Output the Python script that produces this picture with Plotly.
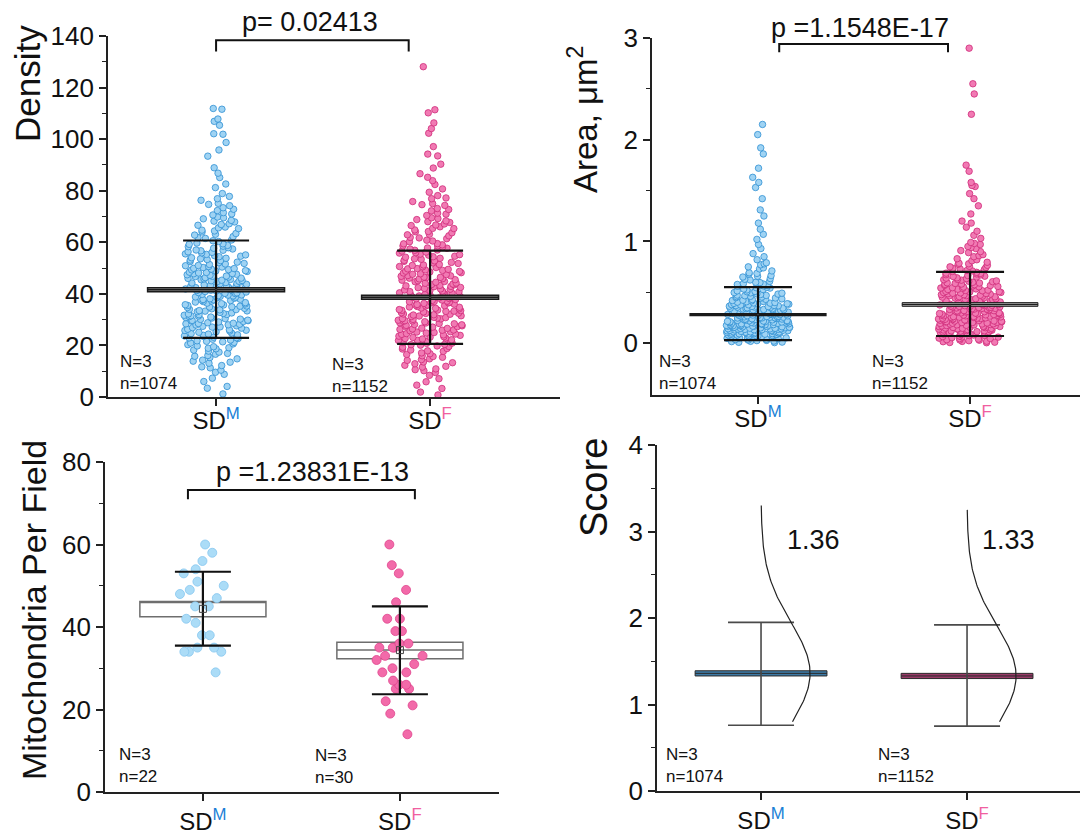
import numpy as np
import plotly.graph_objects as go

# ---- categories ----
groups = ["M", "F"]
group_pos = [0, 1]
sup_color = ["#1a7fd6", "#f0609f"]
tick_text = ["SD<sup><span style='color:%s'>%s</span></sup>" % (c, g) for g, c in zip(groups, sup_color)]
n_animals = [3, 3]

# ---- panel 1: density (subsampled) ----
density_m = [1.2, 3.4, 4.1, 6.0, 7.3, 8.8, 9.6,
             10.4, 11.7, 12.2, 13.5, 13.9, 14.8, 15.3, 16.1, 16.9, 17.4, 18.2, 18.7, 19.1, 19.8,
             20.3, 20.9, 21.4, 21.8, 22.1, 22.7, 23.2, 23.5, 23.9, 24.4, 24.8, 25.1, 25.6, 25.9, 26.3, 26.7,
             27.1, 27.4, 27.9, 28.2, 28.5, 28.8, 29.1, 29.3, 29.6, 29.8, 22.9,
             30.1, 30.4, 30.8, 31.0, 31.5, 31.7, 32.0, 32.4, 32.6, 33.1, 33.3, 33.8, 34.0, 34.2, 34.7, 35.0,
             35.3, 35.8, 36.1, 36.4, 36.6, 37.0, 37.2, 37.7, 37.9, 38.1, 38.5, 38.8, 39.0, 39.3, 39.5, 39.8,
             31.2, 33.5, 35.5, 37.5,
             40.2, 40.5, 40.7, 41.1, 41.3, 41.6, 41.9, 42.2, 42.4, 42.8, 43.0, 43.3, 43.7, 44.0, 44.2, 44.6,
             44.9, 45.1, 45.5, 45.8, 46.0, 46.3, 46.7, 46.9, 47.2, 47.6, 47.8, 48.1, 48.4, 48.7, 49.0, 49.3,
             49.6, 49.9, 42.6, 45.3,
             50.2, 50.6, 51.0, 51.4, 51.8, 52.1, 52.5, 52.9, 53.3, 53.6, 54.0, 54.4, 54.8, 55.1, 55.5, 55.9,
             56.3, 56.7, 57.0, 57.4, 57.9, 58.3, 58.8, 59.2, 59.7,
             60.3, 60.9, 61.5, 62.2, 62.8, 63.4, 64.0, 64.7, 65.3, 65.9, 66.6, 67.2, 67.9, 68.5, 69.1, 69.8,
             70.6, 71.5, 72.3, 73.4, 74.2, 75.1, 76.3, 77.8, 78.9,
             81.2, 82.6, 85.1, 86.8, 88.9, 93.4, 95.8, 98.7,
             101.9, 102.1, 105.4, 106.9, 107.8, 111.6, 111.9,
             20.6, 21.2, 22.4, 23.7, 24.1, 25.3, 26.1, 26.9, 27.6, 28.0, 28.6, 29.5,
             30.2, 30.6, 31.4, 31.9, 32.2, 32.8, 33.4, 33.9, 34.4, 34.9, 35.2, 35.7, 36.2, 36.8, 37.4, 37.8,
             38.3, 38.7, 39.2, 39.6,
             40.1, 40.4, 40.9, 41.4, 41.8, 42.1, 42.7, 43.1, 43.5, 43.9, 44.4, 44.8, 45.2, 45.6, 46.1, 46.5,
             46.8, 47.4, 47.9, 48.3, 48.9, 49.4, 49.8,
             50.4, 50.9, 51.6, 52.3, 53.1, 53.8, 54.6, 55.3, 56.1, 56.9, 57.7, 58.5, 59.4,
             60.6, 61.8, 63.1, 64.4, 65.6, 66.9, 68.2, 69.5, 71.0, 72.8, 74.7, 76.9,
             11.3, 13.1, 14.3, 15.8, 16.6, 17.8, 18.9, 19.5, 21.6, 23.0, 24.6, 25.8, 27.2, 28.4, 29.7]
density_f = [0.8, 1.9, 3.3, 4.6, 5.9, 7.1, 8.4, 9.5,
             10.2, 10.9, 11.6, 12.3, 12.9, 13.6, 14.2, 14.8, 15.4, 16.0, 16.5, 17.1, 17.7, 18.2, 18.8, 19.3, 19.8,
             20.1, 20.4, 20.8, 21.1, 21.5, 21.8, 22.2, 22.5, 22.9, 23.2, 23.6, 23.9, 24.3, 24.6, 25.0, 25.3,
             25.7, 26.0, 26.4, 26.7, 27.1, 27.4, 27.8, 28.1, 28.5, 28.8, 29.2, 29.5, 29.8, 24.1,
             30.1, 30.4, 30.6, 30.9, 31.2, 31.5, 31.8, 32.1, 32.4, 32.7, 33.0, 33.3, 33.6, 33.9, 34.2, 34.5,
             34.8, 35.1, 35.4, 35.7, 36.0, 36.3, 36.6, 36.9, 37.2, 37.5, 37.8, 38.1, 38.4, 38.7, 39.0, 39.3,
             39.6, 39.9, 32.2, 35.6,
             40.2, 40.5, 40.8, 41.1, 41.5, 41.8, 42.1, 42.5, 42.8, 43.1, 43.5, 43.8, 44.1, 44.5, 44.8, 45.1,
             45.5, 45.8, 46.1, 46.5, 46.8, 47.1, 47.5, 47.8, 48.1, 48.5, 48.8, 49.1, 49.5, 49.8, 43.3, 46.3,
             50.2, 50.6, 51.0, 51.4, 51.8, 52.2, 52.6, 53.0, 53.4, 53.8, 54.2, 54.6, 55.0, 55.4, 55.8, 56.2,
             56.6, 57.0, 57.4, 57.8, 58.2, 58.6, 59.0, 59.5,
             60.2, 60.8, 61.4, 61.9, 62.5, 63.1, 63.7, 64.2, 64.8, 65.4, 66.0, 66.5, 67.1, 67.7, 68.3, 68.8, 69.5,
             70.4, 71.3, 72.2, 73.1, 74.3, 75.0, 75.8, 76.9, 78.1, 79.4,
             80.7, 82.4, 83.9, 85.2, 86.6, 88.8, 90.3, 93.5, 94.2, 97.1,
             102.3, 104.1, 106.3, 110.2, 111.4, 128.1,
             20.3, 21.3, 22.0, 22.7, 23.4, 24.4, 25.2, 25.9, 26.6, 27.3, 28.0, 28.7, 29.4,
             30.3, 30.8, 31.4, 31.9, 32.5, 33.2, 33.7, 34.4, 34.9, 35.3, 35.9, 36.5, 37.0, 37.6, 38.2, 38.6,
             39.2, 39.7,
             40.4, 40.9, 41.3, 41.9, 42.4, 42.9, 43.6, 44.2, 44.7, 45.3, 45.9, 46.4, 47.0, 47.6, 48.2, 48.7,
             49.3, 49.7,
             50.5, 51.2, 52.0, 52.8, 53.6, 54.4, 55.2, 56.0, 56.9, 57.7, 58.6, 59.4,
             60.5, 61.7, 62.9, 64.1, 65.3, 66.7, 68.0, 69.2, 70.9, 72.7, 74.6, 77.2,
             10.6, 11.9, 13.3, 14.5, 15.7, 16.8, 17.9, 18.6, 19.6, 20.9, 21.9, 23.1, 24.8, 26.2, 27.6, 28.4,
             29.6, 33.5, 36.8]
density_mean = [41.6, 38.7]
density_box_lo = [40.8, 37.9]
density_box_hi = [42.4, 39.5]
density_sd_lo = [22.9, 20.6]
density_sd_hi = [60.7, 56.8]
density_n = [1074, 1152]
density_p = "p= 0.02413"

# ---- panel 2: area ----
area_m = [0.005, 0.01, 0.015, 0.02, 0.025, 0.03, 0.035, 0.04, 0.045, 0.05, 0.052, 0.055, 0.058, 0.06, 0.063,
          0.066, 0.07, 0.072, 0.075, 0.078, 0.08, 0.083, 0.086, 0.088, 0.09, 0.092, 0.095, 0.097, 0.099,
          0.102, 0.105, 0.107, 0.11, 0.112, 0.115, 0.117, 0.12, 0.122, 0.125, 0.127, 0.13, 0.132, 0.135,
          0.137, 0.14, 0.142, 0.145, 0.147, 0.15, 0.152, 0.155, 0.157, 0.16, 0.162, 0.165, 0.167, 0.17,
          0.172, 0.175, 0.177, 0.18, 0.182, 0.185, 0.187, 0.19, 0.192, 0.195, 0.197, 0.199,
          0.202, 0.205, 0.208, 0.21, 0.213, 0.216, 0.219, 0.222, 0.225, 0.228, 0.231, 0.234, 0.237, 0.24,
          0.243, 0.246, 0.249, 0.252, 0.255, 0.258, 0.261, 0.264, 0.267, 0.27, 0.273, 0.276, 0.279, 0.282,
          0.285, 0.288, 0.291, 0.294, 0.297, 0.214, 0.247, 0.283,
          0.303, 0.307, 0.311, 0.315, 0.319, 0.323, 0.327, 0.331, 0.335, 0.339, 0.343, 0.347, 0.351, 0.355,
          0.359, 0.363, 0.367, 0.371, 0.375, 0.379, 0.383, 0.387, 0.391, 0.395, 0.399,
          0.403, 0.41, 0.416, 0.422, 0.428, 0.435, 0.441, 0.447, 0.453, 0.46, 0.466, 0.472, 0.478, 0.485,
          0.491, 0.497,
          0.505, 0.514, 0.523, 0.532, 0.541, 0.55, 0.559, 0.568, 0.577, 0.586, 0.595,
          0.607, 0.621, 0.635, 0.65, 0.664, 0.678, 0.692, 0.71, 0.73, 0.75, 0.77, 0.79,
          0.82, 0.85, 0.88, 0.93, 0.97, 1.02, 1.07, 1.12, 1.18, 1.25,
          1.31, 1.42, 1.53, 1.58, 1.63, 1.72, 1.86, 1.92, 2.05, 2.15,
          0.008, 0.018, 0.027, 0.038, 0.047, 0.057, 0.064, 0.071, 0.079, 0.087, 0.094,
          0.101, 0.106, 0.111, 0.116, 0.121, 0.126, 0.131, 0.136, 0.141, 0.146, 0.151, 0.156, 0.161, 0.166,
          0.171, 0.176, 0.181, 0.186, 0.191, 0.196,
          0.204, 0.209, 0.217, 0.223, 0.229, 0.236, 0.242, 0.248, 0.254, 0.262, 0.268, 0.274, 0.281, 0.287,
          0.293, 0.298,
          0.305, 0.313, 0.321, 0.329, 0.337, 0.345, 0.353, 0.361, 0.369, 0.377, 0.385, 0.393,
          0.407, 0.419, 0.431, 0.444, 0.457, 0.469, 0.482, 0.494,
          0.509, 0.527, 0.545, 0.563, 0.581, 0.598, 0.628, 0.657, 0.686, 0.74, 0.78]
area_f = [0.004, 0.009, 0.014, 0.019, 0.024, 0.029, 0.034, 0.039, 0.044, 0.049, 0.054, 0.059, 0.064, 0.069,
          0.074, 0.079, 0.084, 0.089, 0.093, 0.096, 0.099,
          0.103, 0.106, 0.11, 0.113, 0.117, 0.12, 0.124, 0.127, 0.131, 0.134, 0.138, 0.141, 0.145, 0.148,
          0.152, 0.155, 0.159, 0.162, 0.166, 0.169, 0.173, 0.176, 0.18, 0.183, 0.187, 0.19, 0.194, 0.198,
          0.202, 0.205, 0.208, 0.212, 0.215, 0.218, 0.222, 0.225, 0.228, 0.232, 0.235, 0.238, 0.242, 0.245,
          0.248, 0.252, 0.255, 0.258, 0.262, 0.265, 0.268, 0.272, 0.275, 0.278, 0.282, 0.285, 0.288, 0.292,
          0.295, 0.298,
          0.302, 0.306, 0.309, 0.313, 0.317, 0.32, 0.324, 0.328, 0.331, 0.335, 0.339, 0.342, 0.346, 0.35,
          0.353, 0.357, 0.361, 0.364, 0.368, 0.372, 0.375, 0.379, 0.383, 0.386, 0.39, 0.394, 0.398,
          0.403, 0.408, 0.413, 0.418, 0.423, 0.428, 0.432, 0.437, 0.442, 0.447, 0.452, 0.457, 0.462, 0.466,
          0.471, 0.476, 0.481, 0.486, 0.49, 0.494, 0.498,
          0.503, 0.509, 0.515, 0.521, 0.527, 0.533, 0.539, 0.545, 0.551, 0.557, 0.563, 0.569, 0.575, 0.581,
          0.587, 0.593, 0.598,
          0.604, 0.612, 0.619, 0.627, 0.635, 0.642, 0.65, 0.658, 0.665, 0.673, 0.681, 0.688, 0.696,
          0.705, 0.715, 0.725, 0.735, 0.745, 0.755, 0.765, 0.775, 0.785, 0.795,
          0.81, 0.83, 0.85, 0.87, 0.89, 0.91, 0.93, 0.95, 0.97, 0.99,
          1.03, 1.06, 1.1, 1.14, 1.18, 1.2, 1.27,
          1.35, 1.42, 1.47, 1.54, 1.55, 1.58, 1.69, 1.75, 2.25, 2.45, 2.55, 2.9,
          0.006, 0.017, 0.031, 0.046, 0.061, 0.076, 0.091,
          0.104, 0.112, 0.121, 0.129, 0.137, 0.146, 0.154, 0.163, 0.171, 0.179, 0.188, 0.196,
          0.203, 0.21, 0.217, 0.224, 0.231, 0.239, 0.246, 0.253, 0.261, 0.268, 0.276, 0.283, 0.291, 0.297,
          0.304, 0.311, 0.319, 0.326, 0.334, 0.341, 0.349, 0.356, 0.363, 0.371, 0.378, 0.385, 0.392,
          0.405, 0.415, 0.426, 0.436, 0.446, 0.456, 0.467, 0.477, 0.488, 0.497,
          0.506, 0.518, 0.53, 0.542, 0.554, 0.566, 0.578, 0.591,
          0.608, 0.624, 0.639, 0.655, 0.671, 0.686, 0.71, 0.73, 0.75, 0.78, 0.82, 0.86, 0.9, 0.94, 0.98]
area_mean = [0.28, 0.38]
area_box_lo = [0.272, 0.362]
area_box_hi = [0.288, 0.398]
area_sd_lo = [0.03, 0.07]
area_sd_hi = [0.55, 0.70]
area_n = [1074, 1152]
area_p = "p =1.1548E-17"

# ---- panel 3: mitochondria per field ----
mito_m = [58, 60, 56, 53, 54, 51, 50, 49, 48, 47, 45, 45, 42, 41, 38, 38, 35, 34, 35, 34, 34, 29]
mito_f = [60, 55, 53, 49, 46, 42, 42, 39, 39, 36, 36, 35, 35, 35, 33, 33, 32, 31, 30, 29, 29, 27, 26, 26,
          25, 25, 22, 21, 19, 14]
mito_mean = [44.4, 34.4]
mito_box_lo = [42.5, 32.3]
mito_median = [46.2, 34.4]
mito_box_hi = [46.2, 36.3]
mito_sd_lo = [35.5, 23.7]
mito_sd_hi = [53.4, 45.0]
mito_n = [22, 30]
mito_p = "p =1.23831E-13"

# ---- panel 4: score ----
score_mean = [1.36, 1.33]
score_box_lo = [1.33, 1.30]
score_box_hi = [1.39, 1.36]
score_sd_lo = [0.76, 0.75]
score_sd_hi = [1.95, 1.92]
score_curve_lo = [0.8, 0.8]
score_curve_hi = [3.3, 3.25]
score_n = [1074, 1152]

FONT = "Arial, Liberation Sans, sans-serif"
W, H = 1088, 838
OFF = 8  # page margin around the plot div


def fx(px):
    return (px - OFF) / W


def fy(py):
    return 1 - (py - OFF) / H


fig = go.Figure()


def add_points(vals, pos, fill, edge, size, xa, ya, width, jitter):
    fig.add_trace(go.Box(x=[pos] * len(vals), y=vals, boxpoints="all", jitter=jitter, pointpos=0,
                         width=width, fillcolor="rgba(0,0,0,0)", whiskerwidth=0,
                         line=dict(width=0, color="rgba(0,0,0,0)"),
                         marker=dict(size=size, color=fill, line=dict(color=edge, width=0.8)),
                         xaxis=xa, yaxis=ya, hoverinfo="skip"))


def add_box(pos, lo, mid, hi, fill, edge, lw, xa, ya):
    fig.add_trace(go.Box(x=[pos], q1=[lo], median=[mid], q3=[hi], lowerfence=[lo], upperfence=[hi],
                         width=0.64, fillcolor=fill, line=dict(color=edge, width=lw), whiskerwidth=0,
                         boxpoints=False, orientation="v", xaxis=xa, yaxis=ya, hoverinfo="skip"))


def add_err(pos, mean, lo, hi, cap, thick, color, xa, ya, sym=None):
    fig.add_trace(go.Scatter(x=[pos], y=[mean], mode="markers",
                             marker=dict(size=7 if sym else 1, symbol=sym or "circle",
                                         color="rgba(0,0,0,0)" if not sym else "#444",
                                         line=dict(width=1, color="#444")),
                             error_y=dict(type="data", symmetric=False, array=[hi - mean],
                                          arrayminus=[mean - lo], width=cap, thickness=thick, color=color),
                             xaxis=xa, yaxis=ya, hoverinfo="skip"))


pt_fill = ["#9fd3f3", "#f17ab3"]
pt_edge = ["#2f8fd3", "#cf2b7a"]

# panel 1
for i, vals in enumerate([density_m, density_f]):
    add_points(vals, group_pos[i], pt_fill[i], pt_edge[i], 6.5, "x", "y", 0.3, 1.0)
for i in range(2):
    add_box(group_pos[i], density_box_lo[i], density_mean[i], density_box_hi[i], "#9a9a9a", "#1a1a1a", 1.5, "x", "y")
    add_err(group_pos[i], density_mean[i], density_sd_lo[i], density_sd_hi[i], 33, 2.2, "#111", "x", "y")

# panel 2
for i, vals in enumerate([area_m, area_f]):
    add_points(vals, group_pos[i], pt_fill[i], pt_edge[i], 6.5, "x2", "y2", 0.3, 1.0)
area_fill = ["#111111", "#a0a0a0"]
area_lw = [1.5, 1.0]
for i in range(2):
    add_box(group_pos[i], area_box_lo[i], area_mean[i], area_box_hi[i], area_fill[i], "#1a1a1a", area_lw[i], "x2", "y2")
    add_err(group_pos[i], area_mean[i], area_sd_lo[i], area_sd_hi[i], 34, 2.2, "#111", "x2", "y2")

# panel 3
mito_fill = ["#abdcf7", "#f26aa9"]
mito_edge = ["#86c7ef", "#e0448d"]
for i in range(2):
    add_box(group_pos[i], mito_box_lo[i], mito_median[i], mito_box_hi[i], "white", "#6e6e6e", 1.5, "x3", "y3")
for i, vals in enumerate([mito_m, mito_f]):
    add_points(vals, group_pos[i], mito_fill[i], mito_edge[i], 9, "x3", "y3", 0.26, 1.0)
for i in range(2):
    add_err(group_pos[i], mito_mean[i], mito_sd_lo[i], mito_sd_hi[i], 28, 2.2, "#111", "x3", "y3", "square-open")

# panel 4
score_fill = ["#3d7aa6", "#9a3b69"]
for i in range(2):
    add_err(group_pos[i], score_mean[i], score_sd_lo[i], score_sd_hi[i], 33, 1.6, "#4a4a4a", "x4", "y4")
    add_box(group_pos[i], score_box_lo[i], score_mean[i], score_box_hi[i], score_fill[i], "#2a2a2a", 1.0, "x4", "y4")
    sd = (score_sd_hi[i] - score_sd_lo[i]) / 2
    yy = np.linspace(score_curve_lo[i], score_curve_hi[i], 120)
    xx = group_pos[i] + 0.238 * np.exp(-(yy - score_mean[i]) ** 2 / (2 * sd ** 2))
    fig.add_trace(go.Scatter(x=xx, y=yy, mode="lines", line=dict(color="#222", width=1.2),
                             xaxis="x4", yaxis="y4", hoverinfo="skip"))

# brackets with p-values
brackets = [("x", "y", -0.0, 0.9, 138.4, 134.0), ("x2", "y2", 0.1, 0.896, 2.94, 2.86),
            ("x3", "y3", -0.076, 1.076, 73.2, 71.0)]
for xa, ya, x0, x1, yt, yb in brackets:
    fig.add_shape(type="path", xref=xa, yref=ya, path="M %f,%f V %f H %f V %f" % (x0, yb, yt, x1, yb),
                  line=dict(color="#111", width=2))

ann = []
for txt, px, py in [(density_p, 310, 22), (area_p, 860, 28), (mito_p, 312, 472)]:
    ann.append(dict(text=txt, x=fx(px), y=fy(py), xref="paper", yref="paper", showarrow=False,
                    xanchor="center", yanchor="middle", font=dict(size=27, color="#111", family=FONT)))

# N / n labels
nlab = [(density_n, [(118, 372), (330, 375)]), (area_n, [(657, 372), (870, 372)]),
        (mito_n, [(117, 765), (313, 766)]), (score_n, [(664, 765), (876, 765)])]
for ns, places in nlab:
    for i, (px, py) in enumerate(places):
        ann.append(dict(text="N=%d<br>n=%d" % (n_animals[i], ns[i]), x=fx(px), y=fy(py),
                        xref="paper", yref="paper", showarrow=False, xanchor="left", yanchor="middle",
                        align="left", font=dict(size=17, color="#111", family=FONT)))

# score means
score_lbl_x = [0.257, 0.2]
for i in range(2):
    ann.append(dict(text="%.2f" % score_mean[i], x=group_pos[i] + score_lbl_x[i], y=2.9, xref="x4", yref="y4",
                    showarrow=False, xanchor="center", yanchor="middle",
                    font=dict(size=27, color="#111", family=FONT)))

# y titles
for txt, px, py, fs in [("Density", 27, 84, 35), ("Area, μm<sup>2</sup>", 583, 120, 33),
                        ("Mitochondria Per Field", 34, 610, 34), ("Score", 594, 488, 38)]:
    ann.append(dict(text=txt, x=fx(px), y=fy(py), xref="paper", yref="paper", showarrow=False,
                    textangle=-90, xanchor="center", yanchor="middle",
                    font=dict(size=fs, color="#111", family=FONT)))


def xaxis(x0, x1, rng, anchor, stand):
    return dict(domain=[fx(x0), min(fx(x1), 1.0)], range=rng, anchor=anchor, tickvals=group_pos,
                ticktext=tick_text, showline=True, linecolor="#222", linewidth=1.8, ticks="outside",
                ticklen=7, tickwidth=1.5, tickcolor="#222", showgrid=False, zeroline=False,
                ticklabelstandoff=stand, automargin=False,
                tickfont=dict(size=24, color="#111", family=FONT))


def yaxis(top, bottom, rng, anchor, vals, minor_vals):
    return dict(domain=[fy(bottom), fy(top)], range=rng, anchor=anchor, tickvals=vals, showline=True,
                linecolor="#222", linewidth=1.8, ticks="outside", ticklen=7, tickwidth=1.5, tickcolor="#222",
                automargin=False, showgrid=False, zeroline=False,
                tickfont=dict(size=26, color="#111", family=FONT),
                minor=dict(tickvals=minor_vals, ticks="outside", ticklen=4, tickwidth=1.2, tickcolor="#222"))


fig.update_layout(
    template="none",
    width=W, height=H, margin=dict(l=0, r=0, t=0, b=0, pad=0), showlegend=False,
    paper_bgcolor="white", plot_bgcolor="white", boxmode="overlay",
    xaxis=xaxis(108, 560, [-0.505, 1.607], "y", -6),
    yaxis=yaxis(36, 397, [0, 140], "x", list(range(0, 141, 20)), list(range(10, 140, 20))),
    xaxis2=xaxis(652, 1096, [-0.5, 1.594], "y2", -6),
    yaxis2=yaxis(38, 395, [-0.51, 3], "x2", [0, 1, 2, 3], [0.5, 1.5, 2.5]),
    xaxis3=xaxis(105, 499, [-0.497, 1.503], "y3", 0),
    yaxis3=yaxis(462, 792, [0, 80], "x3", [0, 20, 40, 60, 80], [10, 30, 50, 70]),
    xaxis4=xaxis(657, 1096, [-0.505, 1.626], "y4", 0),
    yaxis4=yaxis(445, 791, [0, 4], "x4", [0, 1, 2, 3, 4], [0.5, 1.5, 2.5, 3.5]),
    annotations=ann,
)

fig.write_html("out.html")
